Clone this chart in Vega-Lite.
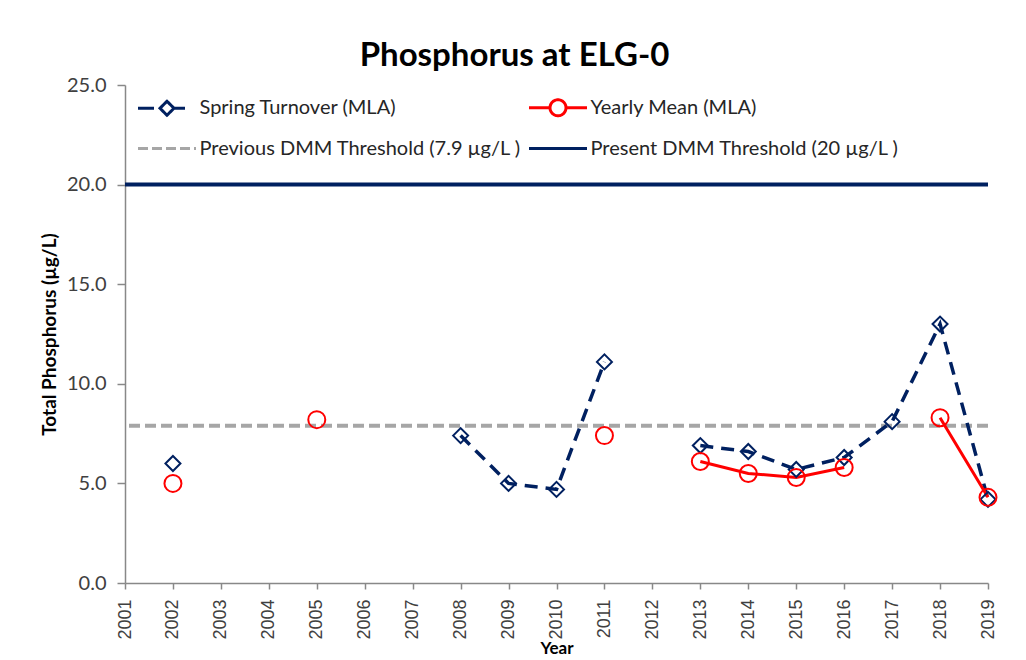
{
  "$schema": "https://vega.github.io/schema/vega-lite/v6.json",
  "width": 863,
  "height": 498,
  "autosize": "none",
  "padding": {"left": 125, "top": 85, "right": 38, "bottom": 77},
  "background": "white",
  "title": {"text": "Phosphorus at ELG-0", "font": "Lato", "fontSize": 33, "fontWeight": "bold", "color": "black", "anchor": "middle", "frame": "group", "dx": -42, "offset": 2},
  "config": {"view": {"stroke": null}, "font": "Lato", "legend": {"title": null}},
  "datasets": {
    "obs": [
      {"year": 2002, "spring": 6.0, "mean": 5.0},
      {"year": 2003, "spring": null, "mean": null},
      {"year": 2004, "spring": null, "mean": null},
      {"year": 2005, "spring": null, "mean": 8.2},
      {"year": 2006, "spring": null, "mean": null},
      {"year": 2007, "spring": null, "mean": null},
      {"year": 2008, "spring": 7.4, "mean": null},
      {"year": 2009, "spring": 5.0, "mean": null},
      {"year": 2010, "spring": 4.7, "mean": null},
      {"year": 2011, "spring": 11.1, "mean": 7.4},
      {"year": 2012, "spring": null, "mean": null},
      {"year": 2013, "spring": 6.9, "mean": 6.1},
      {"year": 2014, "spring": 6.6, "mean": 5.5},
      {"year": 2015, "spring": 5.7, "mean": 5.3},
      {"year": 2016, "spring": 6.3, "mean": 5.8},
      {"year": 2017, "spring": 8.1, "mean": null},
      {"year": 2018, "spring": 13.0, "mean": 8.3},
      {"year": 2019, "spring": 4.2, "mean": 4.3}
    ],
    "thr": [
      {"name": "Previous DMM Threshold (7.9 µg/L )", "value": 7.9},
      {"name": "Present DMM Threshold (20 µg/L )", "value": 20}
    ]
  },
  "encoding": {
    "x": {"field": "year", "type": "quantitative",
      "scale": {"domain": [2001, 2019], "nice": false, "zero": false},
      "axis": {"title": "Year", "values": [2001,2002,2003,2004,2005,2006,2007,2008,2009,2010,2011,2012,2013,2014,2015,2016,2017,2018,2019],
        "format": "d", "labelAngle": 270, "labelFont": "Liberation Sans", "labelFontSize": 18, "labelColor": "#404040",
        "labelPadding": 10, "labelOverlap": false, "labelFlush": false, "tickSize": 6, "tickColor": "#888888", "domainColor": "#888888", "domainWidth": 1.5, "tickWidth": 1.5,
        "grid": false, "titleFont": "Lato", "titleFontSize": 17, "titleFontWeight": "bold", "titleColor": "black", "titlePadding": 1}}
  },
  "layer": [
    {
      "data": {"name": "thr"},
      "transform": [{"filter": "datum.value < 10"}],
      "mark": {"type": "rule", "strokeWidth": 4, "strokeDash": [11, 5]},
      "encoding": {
        "x": null,
        "y": {"field": "value", "type": "quantitative"},
        "color": {"field": "name", "type": "nominal", "title": null}
      }
    },
    {
      "data": {"name": "thr"},
      "transform": [{"filter": "datum.value > 10"}],
      "mark": {"type": "rule", "strokeWidth": 4},
      "encoding": {
        "x": null,
        "y": {"field": "value", "type": "quantitative"},
        "color": {"field": "name", "type": "nominal", "title": null}
      }
    },
    {
      "data": {"name": "obs"},
      "mark": {"type": "line", "strokeWidth": 3.5, "strokeDash": [13, 8], "invalid": "break-paths-show-domains"},
      "encoding": {
        "y": {"field": "spring", "type": "quantitative",
          "scale": {"domain": [0, 25], "nice": false},
          "axis": {"title": "Total Phosphorus (µg/L)", "values": [0, 5, 10, 15, 20, 25], "format": ".1f",
            "labelFont": "Lato", "labelFontSize": 20, "labelColor": "#404040", "labelPadding": 11,
            "tickSize": 8, "tickColor": "#888888", "tickWidth": 1.5, "domainColor": "#888888", "domainWidth": 1.5, "grid": false,
            "titleFont": "Lato", "titleFontSize": 19, "titleFontWeight": "bold", "titleColor": "black", "titlePadding": 7}},
        "color": {"datum": "Spring Turnover (MLA)", "type": "nominal", "title": null,
          "scale": {"domain": ["Spring Turnover (MLA)", "Yearly Mean (MLA)", "Previous DMM Threshold (7.9 µg/L )", "Present DMM Threshold (20 µg/L )"],
                    "range": ["#002060", "#FF0000", "#A6A6A6", "#002060"]},
          "legend": {"title": null, "orient": "none", "legendX": 13, "legendY": 11, "direction": "horizontal", "columns": 2,
            "columnPadding": 1, "rowPadding": 15, "padding": 0,
            "labelFont": "Lato", "labelFontSize": 20, "labelColor": "#262626", "labelLimit": 500, "labelOffset": 21,
            "symbolSize": 400, "symbolStrokeWidth": 3, "symbolOffset": 17.5,
            "encode": {"symbols": {"update": {
              "shape": {"signal": "datum.value === 'Spring Turnover (MLA)' ? 'M-2.9,0H-1.3M0,-0.7L0.7,0L0,0.7L-0.7,0ZM0.7,0H1.8' : datum.value === 'Yearly Mean (MLA)' ? 'M-2.9,0H-0.8M0.8,0H2.9M-0.8,0A0.8,0.8 0 1,0 0.8,0A0.8,0.8 0 1,0 -0.8,0' : 'M-2.9,0H2.9'"},
              "strokeDash": {"signal": "datum.value === 'Previous DMM Threshold (7.9 µg/L )' ? [10, 4] : [1, 0]"},
              "fill": {"value": "transparent"},
              "stroke": {"scale": "color", "field": "value"},
              "opacity": {"value": 1}
            }}}}}
      }
    },
    {
      "data": {"name": "obs"},
      "mark": {"type": "line", "strokeWidth": 3, "invalid": "break-paths-show-domains"},
      "encoding": {
        "y": {"field": "mean", "type": "quantitative"},
        "color": {"datum": "Yearly Mean (MLA)", "type": "nominal"}
      }
    },
    {
      "data": {"name": "obs"},
      "mark": {"type": "point", "shape": "diamond", "filled": false, "size": 225, "strokeWidth": 2, "opacity": 1},
      "encoding": {
        "y": {"field": "spring", "type": "quantitative"},
        "color": {"datum": "Spring Turnover (MLA)", "type": "nominal"}
      }
    },
    {
      "data": {"name": "obs"},
      "mark": {"type": "point", "shape": "circle", "filled": false, "size": 289, "strokeWidth": 2, "opacity": 1},
      "encoding": {
        "y": {"field": "mean", "type": "quantitative"},
        "color": {"datum": "Yearly Mean (MLA)", "type": "nominal"}
      }
    }
  ]
}
